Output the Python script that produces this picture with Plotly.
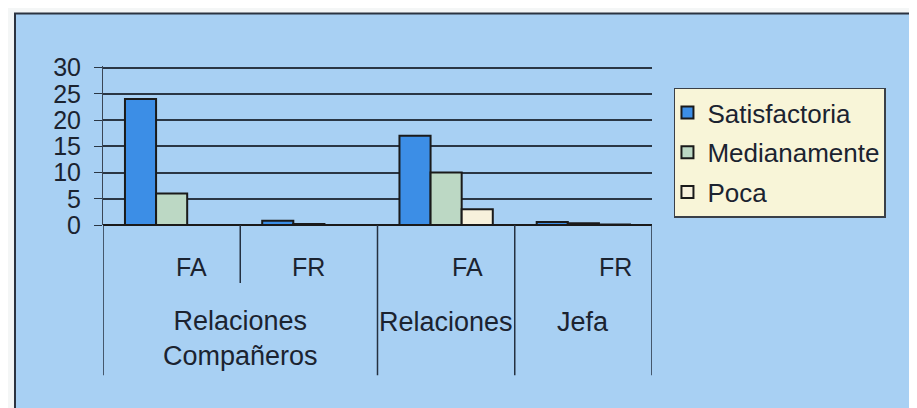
import plotly.graph_objects as go

# categories (sub-level) and group labels
subcats = ["FA", "FR", "FA", "FR"]
group_labels = ["Relaciones<br>Compañeros", "Relaciones", "Jefa"]
group_label_pos = [0.5, 2, 3]

# series values
satisfactoria = [24, 0.8, 17, 0.57]
medianamente = [6, 0.2, 10, 0.33]
poca = [0, 0, 3, 0.1]

series = [
    ("Satisfactoria", satisfactoria, "#3c8ee6"),
    ("Medianamente", medianamente, "#bcd8c4"),
    ("Poca", poca, "#f7f1dc"),
]

xpos = list(range(len(subcats)))
FONT = "Liberation Sans, Arial, sans-serif"
INK = "#1b2330"

fig = go.Figure()
for name, vals, color in series:
    fig.add_trace(go.Bar(
        x=xpos, y=vals, name=name, legendgroup=name,
        marker=dict(color=color, line=dict(color="#1a1a1a", width=2)),
    ))

# outer chart area (blue panel with dark left/top border)
fig.add_shape(type="rect", xref="paper", yref="paper",
              x0=-0.1603, x1=1.55, y0=-1.3, y1=1.33,
              fillcolor="#a8d0f3", line=dict(color="#2b3340", width=2),
              layer="below")

# category dividers below the axis
long_div = [-0.5, 1.5, 2.5, 3.5]
short_div = [0.5]
for xv in long_div:
    fig.add_shape(type="line", xref="x", yref="paper", x0=xv, x1=xv,
                  y0=0, y1=-0.945, line=dict(color="#243040", width=1.5))
for xv in short_div:
    fig.add_shape(type="line", xref="x", yref="paper", x0=xv, x1=xv,
                  y0=0, y1=-0.365, line=dict(color="#243040", width=1.5))

# sub-category labels (FA / FR)
sub_shift = [20, 0, 21, 32]
for xv, txt, sh in zip(xpos, subcats, sub_shift):
    fig.add_annotation(x=xv, y=-0.265, xref="x", yref="paper", text=txt,
                       showarrow=False, xshift=sh, yanchor="middle",
                       font=dict(family=FONT, size=25, color=INK))

# group labels
for xv, txt in zip(group_label_pos, group_labels):
    fig.add_annotation(x=xv, y=-0.613 if "<br>" not in txt else -0.713,
                       xref="x", yref="paper", text=txt,
                       showarrow=False, yanchor="middle",
                       font=dict(family=FONT, size=27, color=INK))

# page body adds an 8px offset, margins compensate for it
fig.update_layout(
    width=917, height=408,
    margin=dict(l=95, r=273, t=58, b=191),
    paper_bgcolor="#f4f6f6",
    plot_bgcolor="rgba(0,0,0,0)",
    barmode="group", bargap=0.32, bargroupgap=0,
    font=dict(family=FONT, size=24, color=INK),
    legend=dict(x=1.04, y=0.864, xanchor="left", yanchor="top",
                bgcolor="#f8f5d8", bordercolor="#3a4048", borderwidth=1.5,
                tracegroupgap=3, indentation=-8,
                font=dict(family=FONT, size=26, color=INK),
                itemwidth=30),
    showlegend=True,
)

fig.update_xaxes(range=[-0.5, 3.5], showticklabels=False, showgrid=False,
                 zeroline=False, showline=False, ticks="")
fig.update_yaxes(range=[0, 30.3], dtick=5, showgrid=True,
                 gridcolor="#2a3644", gridwidth=1.5,
                 zeroline=True, zerolinecolor="#1a1a1a", zerolinewidth=2,
                 showline=True, linecolor="#3a4656", linewidth=1,
                 ticks="outside", ticklen=8, tickcolor="#2a3644",
                 ticklabelstandoff=8,
                 tickfont=dict(family=FONT, size=25, color=INK))

fig.write_html("out.html")
